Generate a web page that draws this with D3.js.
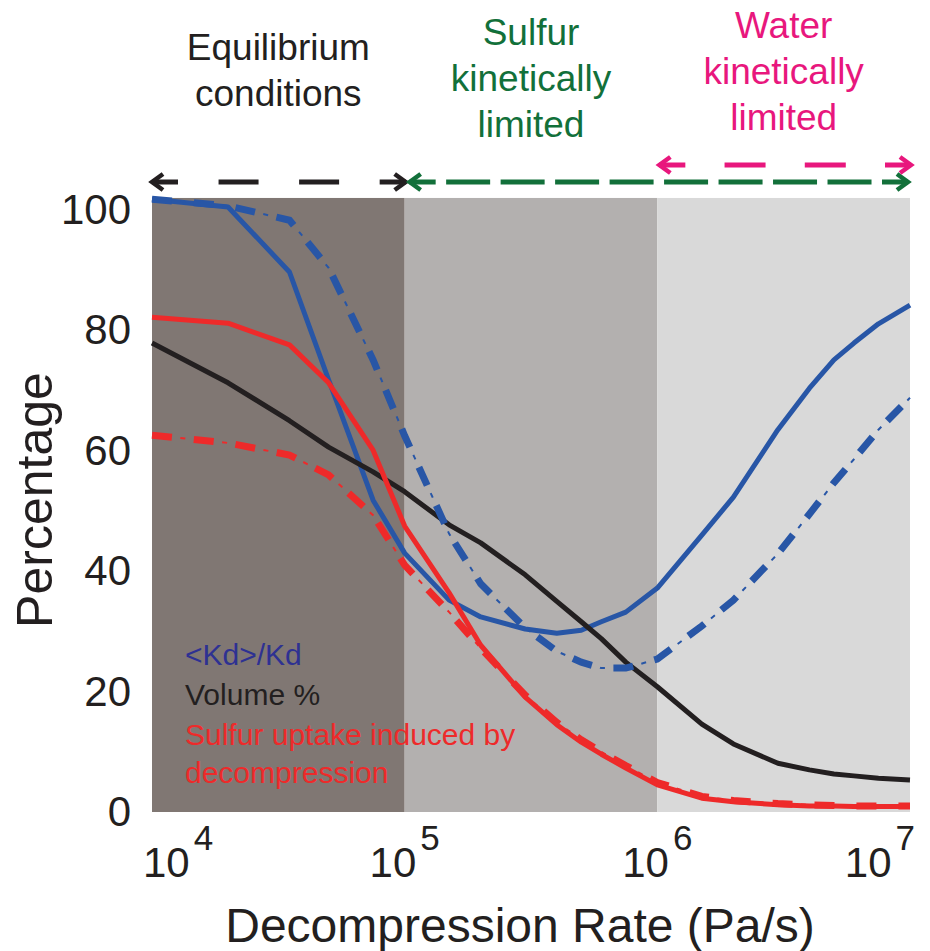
<!DOCTYPE html>
<html>
<head>
<meta charset="utf-8">
<script src="https://cdn.jsdelivr.net/npm/d3@7"></script>
<style>
  body { margin: 0; background: #fff; }
  svg { font-family: "Liberation Sans", Arial, Helvetica, sans-serif; }
</style>
</head>
<body>
<svg id="chart" width="930" height="951"></svg>
<script>
// decompression rates (Pa/s) the curves are sampled at
var rates = [1e4, 2e4, 3.5e4, 5e4, 7.5e4, 1e5, 1.5e5, 2e5, 3e5, 4e5, 5e5, 6e5, 7.5e5,
             1e6, 1.5e6, 2e6, 3e6, 4e6, 5e6, 6e6, 7.5e6, 1e7];

// <Kd>/Kd, solid and dash-dot
var kdSolid = [101.8, 100.5, 89.7, 71.8, 51.8, 43.0, 35.2, 32.4, 30.4, 29.7, 30.2, 31.6, 33.2,
               37.2, 46.0, 52.3, 63.5, 70.4, 75.1, 77.9, 81.1, 84.2];
var kdDash = [101.8, 100.7, 98.3, 90.4, 75.1, 62.5, 46.2, 37.9, 30.6, 26.7, 24.9, 23.9, 23.9,
              25.4, 30.9, 35.2, 42.9, 49.5, 54.7, 58.6, 63.5, 68.8];

// Volume %
var volume = [77.9, 71.3, 65.0, 60.6, 56.5, 53.2, 47.7, 44.7, 39.4, 35.0, 31.6, 28.8, 24.9,
              20.8, 14.6, 11.3, 8.1, 7.0, 6.3, 6.0, 5.6, 5.3];

// Sulfur uptake induced by decompression, solid and dash-dot
var sulfurSolid = [82.2, 81.2, 77.6, 71.3, 60.1, 47.5, 36.4, 27.7, 19.1, 14.5, 11.6, 9.6, 7.3,
                   4.5, 2.3, 1.7, 1.2, 1.0, 1.0, 0.9, 0.9, 0.9];
var sulfurDash = [62.6, 61.3, 59.3, 56.0, 49.3, 41.0, 33.2, 27.2, 19.4, 14.9, 12.0, 10.0, 7.7,
                  4.9, 2.6, 1.9, 1.4, 1.2, 1.1, 1.0, 1.0, 1.0];

var xTicks = [1e4, 1e5, 1e6, 1e7];
var xTickExp = ["4", "5", "6", "7"];
var yTicks = [0, 20, 40, 60, 80, 100];

// regime boundaries and labels
var regionBounds = [1e4, 1e5, 1e6, 1e7];
var equilibriumLabel = ["Equilibrium", "conditions"];
var sulfurLabel = ["Sulfur", "kinetically", "limited"];
var waterLabel = ["Water", "kinetically", "limited"];
var legendLabels = ["<Kd>/Kd", "Volume %", "Sulfur uptake induced by", "decompression"];

var BLUE = "#2856a6", RED = "#ee2a2a", BLACK = "#231f20",
    GREEN = "#12703a", PINK = "#e8177d";

var svg = d3.select("#chart");

var x = d3.scaleLog().domain([1e4, 1e7]).range([152, 910]);
var y = d3.scaleLinear().domain([0, 100]).range([812, 210]);

// background bands
var bandFill = ["#807773", "#b3b0af", "#d9d9d9"];
svg.append("g").selectAll("rect")
    .data(d3.pairs(regionBounds))
    .enter().append("rect")
    .attr("x", function(d) { return x(d[0]); })
    .attr("width", function(d) { return x(d[1]) - x(d[0]); })
    .attr("y", y(102))
    .attr("height", y(0) - y(102))
    .attr("fill", function(d, i) { return bandFill[i]; });

// y axis (labels only)
var yAxis = svg.append("g")
    .attr("transform", "translate(" + x(1e4) + ",0)")
    .call(d3.axisLeft(y).tickValues(yTicks).tickSize(0).tickPadding(21));
yAxis.select(".domain").remove();
yAxis.selectAll("text")
    .style("font-family", "Liberation Sans, Arial, sans-serif")
    .style("font-size", "42px")
    .attr("fill", BLACK);

// x tick labels with superscripts
var xLab = svg.append("g").selectAll("text")
    .data(xTicks)
    .enter().append("text")
    .attr("x", function(d, i) {
        if (i === 0) return x(d) - 9;
        if (i === xTicks.length - 1) return x(d) + 5;
        return x(d);
    })
    .attr("y", 877)
    .attr("text-anchor", function(d, i) {
        return i === 0 ? "start" : (i === xTicks.length - 1 ? "end" : "middle");
    })
    .attr("fill", BLACK)
    .style("font-size", "42px");
xLab.append("tspan").text("10");
xLab.append("tspan")
    .attr("dx", 4).attr("dy", -27)
    .style("font-size", "35px")
    .text(function(d, i) { return xTickExp[i]; });

// axis titles
svg.append("text")
    .attr("x", 520).attr("y", 942)
    .attr("text-anchor", "middle")
    .attr("fill", BLACK)
    .style("font-size", "48px")
    .text("Decompression Rate (Pa/s)");

svg.append("text")
    .attr("transform", "translate(52,500) rotate(-90)")
    .attr("text-anchor", "middle")
    .attr("fill", BLACK)
    .style("font-size", "50px")
    .text("Percentage");

// curves
var line = d3.line()
    .x(function(d) { return x(d[0]); })
    .y(function(d) { return y(d[1]); });

function series(vals) { return rates.map(function(r, i) { return [r, vals[i]]; }); }

function solid(vals, color) {
    svg.append("path")
        .attr("d", line(series(vals)))
        .attr("fill", "none")
        .attr("stroke", color)
        .attr("stroke-width", 5)
        .attr("stroke-linejoin", "round");
}

// dash-dot: thick dashes with a thin short tick in each gap
function dashDot(vals, color) {
    var d = line(series(vals));
    svg.append("path")
        .attr("d", d)
        .attr("fill", "none")
        .attr("stroke", color)
        .attr("stroke-width", 7)
        .attr("stroke-dasharray", "20,22");
    svg.append("path")
        .attr("d", d)
        .attr("fill", "none")
        .attr("stroke", color)
        .attr("stroke-width", 2)
        .attr("stroke-dasharray", "5,37")
        .attr("stroke-dashoffset", -28.5);
}

solid(kdSolid, BLUE);
solid(volume, BLACK);
dashDot(kdDash, BLUE);
solid(sulfurSolid, RED);
dashDot(sulfurDash, RED);

// regime arrows
function dashPattern(L, e, d, n) {
    var g = (L - 2 * e - n * d) / (n + 1);
    var a = [e];
    for (var i = 0; i < n; i++) a.push(g, d);
    a.push(g, e + 5);
    return a.join(",");
}

function arrow(x1, x2, yy, color, dash, n) {
    var g = svg.append("g").attr("stroke", color).attr("fill", "none");
    g.append("line")
        .attr("x1", x1 + 2).attr("x2", x2 - 2)
        .attr("y1", yy).attr("y2", yy)
        .attr("stroke-width", 5)
        .attr("stroke-dasharray", dashPattern(x2 - x1 - 4, 26, dash, n));
    g.append("path")
        .attr("d", "M" + (x1 + 13) + "," + (yy - 8) + "L" + (x1 + 2) + "," + yy + "L" + (x1 + 13) + "," + (yy + 8))
        .attr("stroke-width", 4.5);
    g.append("path")
        .attr("d", "M" + (x2 - 13) + "," + (yy - 8) + "L" + (x2 - 2) + "," + yy + "L" + (x2 - 13) + "," + (yy + 8))
        .attr("stroke-width", 4.5);
}

arrow(x(1e4) - 2, x(1e5) + 3, 182, BLACK, 40, 2);
arrow(x(1e5) + 3, x(1e7), 182, GREEN, 44, 8);
arrow(x(1e6), x(1e7) + 3, 165, PINK, 41, 2);

// regime labels
function label(lines, cx, baseline, color) {
    svg.append("g").selectAll("text")
        .data(lines)
        .enter().append("text")
        .attr("x", cx)
        .attr("y", function(d, i) { return baseline + i * 46; })
        .attr("text-anchor", "middle")
        .attr("fill", color)
        .style("font-size", "37px")
        .text(function(d) { return d; });
}

function mid(a, b) { return (x(a) + x(b)) / 2; }
label(equilibriumLabel, mid(1e4, 1e5), 60, BLACK);
label(sulfurLabel, mid(1e5, 1e6), 45, GREEN);
label(waterLabel, mid(1e6, 1e7), 38, PINK);

// legend text
var legendColors = ["#2e3192", BLACK, RED, RED];
var legendY = [665, 705, 745, 783];
svg.append("g").selectAll("text")
    .data(legendLabels)
    .enter().append("text")
    .attr("x", 185)
    .attr("y", function(d, i) { return legendY[i]; })
    .attr("fill", function(d, i) { return legendColors[i]; })
    .style("font-size", "30px")
    .text(function(d) { return d; });
</script>
</body>
</html>
